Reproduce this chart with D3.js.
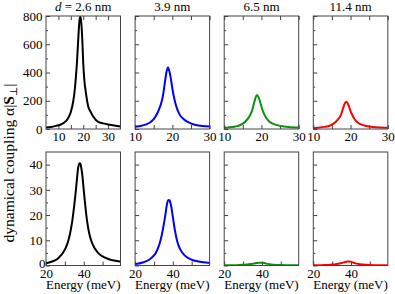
<!DOCTYPE html>
<meta charset="utf-8">
<style>
body{margin:0;background:#fff;}
svg text{font-family:"Liberation Serif","DejaVu Serif","Times New Roman",serif !important;fill:#000;}
.frame{fill:none;stroke:#444;stroke-width:1;}
.ax path{display:none;}
.ax line{stroke:#444;stroke-width:1;}
.ax text{font-size:13px;}
.curve{fill:none;stroke-width:2;}
</style>
<body>
<script src="https://d3js.org/d3.v7.min.js"></script>
<script>

// sizes
var sizes = ["2.6", "3.9", "6.5", "11.4"];
var colors = ["#000000", "#0000ff", "#0f8f0f", "#ff0000"];

// top row: energy grid (meV) and coupling values
var energyTop = [5,7,9,11,13,14,15,16,16.5,17,17.5,18,18.4,18.8,19.2,19.6,20,20.5,21,22,23,24,26,28,30,32,35];
var top26  = [10,14,22,32,56,80,120,200,264,360,480,640,752,800,752,640,464,336,264,160,120,88,50,40,32,26,17];
var top39  = [5,8,12,20,33,46,70,113,144,183,239,331,400,435,409,357,287,218,165,100,70,52,30,22,17,14,10];
var top65  = [3,4,7,11,18,25,38,62,79,101,132,182,221,240,226,197,158,120,91,55,38,29,17,12,10,8,6];
var top114 = [2,4,5,9,15,20,31,50,64,81,106,147,178,193,182,158,127,97,73,44,31,23,14,10,8,6,4];

// bottom row
var energyBot = [20,22,24,26,28,30,31,32,33,34,35,36,36.5,37,37.5,37.9,38.3,38.8,39.3,40,41,42,43,44,46,48,50,53,56,60];
var bot26  = [0.9,1.3,1.8,2.6,4.1,6.3,8.0,10.3,13.6,18,24,31,35,38.5,40.2,40.5,40.2,38.3,35.5,30,22.5,16.5,12.5,9.8,6.6,4.7,3.6,2.6,2.0,1.5];
var bot39  = [0.6,0.8,1.2,1.7,2.6,4.0,5.1,6.6,8.7,11.6,15.4,19.9,22.5,24.7,25.8,26,25.8,24.6,22.8,19.3,14.4,10.6,8.0,6.3,4.2,3.0,2.3,1.7,1.3,1.0];
var bot65  = [0.05,0.07,0.1,0.13,0.18,0.25,0.3,0.38,0.46,0.55,0.67,0.8,0.87,0.95,1.0,1.04,1.07,1.09,1.1,1.08,0.98,0.82,0.65,0.5,0.32,0.22,0.16,0.11,0.08,0.06];
var bot114 = [0.05,0.08,0.11,0.16,0.24,0.35,0.43,0.53,0.66,0.82,1.0,1.2,1.3,1.4,1.5,1.56,1.59,1.6,1.57,1.45,1.22,0.96,0.75,0.58,0.38,0.27,0.2,0.14,0.1,0.08];

var topSeries = [top26, top39, top65, top114];
var botSeries = [bot26, bot39, bot65, bot114];

var rows = [
  {energy: energyTop, series: topSeries, ydom: [0, 800], yMajor: [0,200,400,600,800], yMinor: [100,300,500,700],
   xdoms: [[5,35],[10,30],[10,30],[10,30]], xMajor: [10,20,30], xMinor: [15,25], mirror: true, top: 16, bottom: 129},
  {energy: energyBot, series: botSeries, ydom: [0, 45], yMajor: [0,10,20,30,40], yMinor: [5,15,25,35],
   xdoms: [[20,59.5],[20,59.5],[20,59.5],[20,59.5]], xMajor: [20,40], xMinor: [30,50], mirror: false, top: 152, bottom: 265.5}
];

var lefts = [46, 135.1, 224.2, 313.3], pw = 74.5;

var svg = d3.select("body").append("svg").attr("width", 395).attr("height", 294);
var defs = svg.append("defs");

rows.forEach(function(row, r){
  for (var c = 0; c < 4; c++) {
    var x = d3.scaleLinear().domain(row.xdoms[c]).range([lefts[c], lefts[c] + pw]);
    var y = d3.scaleLinear().domain(row.ydom).range([row.bottom, row.top]);
    var id = "clip" + r + c;
    defs.append("clipPath").attr("id", id).append("rect")
      .attr("x", lefts[c]).attr("y", row.top).attr("width", pw).attr("height", row.bottom - row.top);

    var xlab = d3.axisBottom(x).tickValues(row.xMajor).tickSize(-4).tickPadding(3).tickFormat(d3.format("d"));
    svg.append("g").attr("class", "ax").attr("transform", "translate(0," + row.bottom + ")").call(xlab)
      .attr("font-family", null).attr("font-size", null);
    svg.append("g").attr("class", "ax").attr("transform", "translate(0," + row.bottom + ")")
      .call(d3.axisBottom(x).tickValues(row.xMinor).tickSize(-4).tickFormat(""));
    if (row.mirror) {
      svg.append("g").attr("class", "ax").attr("transform", "translate(0," + row.top + ")")
        .call(d3.axisTop(x).tickValues(row.xMajor.concat(row.xMinor)).tickSize(-4).tickFormat(""));
    }
    var ylab = d3.axisLeft(y).tickValues(row.yMajor).tickSize(-4).tickPadding(3.5)
      .tickFormat(c == 0 ? d3.format("d") : "");
    var gy = svg.append("g").attr("class", "ax").attr("transform", "translate(" + lefts[c] + ",0)").call(ylab)
      .attr("font-family", null).attr("font-size", null);
    svg.append("g").attr("class", "ax").attr("transform", "translate(" + lefts[c] + ",0)")
      .call(d3.axisLeft(y).tickValues(row.yMinor).tickSize(-2).tickFormat(""));
    if (r == 1 && c == 0) {
      gy.selectAll(".tick text").filter(function(d){ return d == 0; }).attr("dx", 3).attr("dy", "0.15em");
    }

    var line = d3.line().x(function(d, i){ return x(row.energy[i]); }).y(function(d){ return y(d); })
      .curve(d3.curveMonotoneX);
    svg.append("path").attr("class", "curve").attr("clip-path", "url(#" + id + ")")
      .attr("stroke", colors[c]).attr("d", line(row.series[c]));

    svg.append("rect").attr("class", "frame")
      .attr("x", lefts[c]).attr("y", row.top).attr("width", pw).attr("height", row.bottom - row.top);

    if (r == 0) {
      var t = svg.append("text").attr("x", lefts[c] + pw / 2).attr("y", 10.5)
        .attr("text-anchor", "middle").style("font-size", "13px");
      if (c == 0) {
        t.append("tspan").style("font-style", "italic").text("d");
        t.append("tspan").text(" = " + sizes[c] + " nm");
      } else {
        t.text(sizes[c] + " nm");
      }
    } else {
      svg.append("text").attr("x", lefts[c] + pw / 2).attr("y", 288.5)
        .attr("text-anchor", "middle").style("font-size", "13px").text("Energy (meV)");
    }
  }
});

var yt = svg.append("text").attr("transform", "translate(14,163) rotate(-90)")
  .attr("text-anchor", "middle").style("font-size", "15.5px");
yt.append("tspan").text("dynamical coupling α|");
yt.append("tspan").style("font-weight", "bold").text("S");
yt.append("tspan").attr("dy", 3).style("font-size", "10px").text("⊥");
yt.append("tspan").attr("dy", -3).text("|");

</script>
</body>
</html>
